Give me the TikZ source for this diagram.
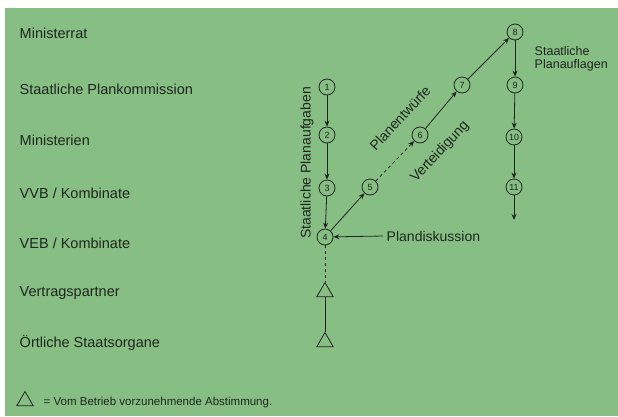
\documentclass[tikz,border=0pt]{standalone}
\usepackage{fontspec}
\setmainfont{Liberation Sans}
\usetikzlibrary{arrows.meta, positioning, shapes.geometric}
\definecolor{plangreen}{RGB}{134,190,132}
\definecolor{ink}{RGB}{30,38,30}

\begin{document}
\begin{tikzpicture}[x=1pt, y=-1pt, >={Stealth[length=6pt,width=5pt]}, thick, draw=ink, text=ink,
    stufe/.style={circle, draw=ink, inner sep=0pt, minimum size=16pt, font=\fontsize{9}{10}\selectfont},
    abst/.style={regular polygon, regular polygon sides=3, draw=ink, inner sep=0pt, minimum size=19pt},
    ebene/.style={anchor=west, font=\fontsize{14.5}{16}\selectfont},
    lbl/.style={font=\fontsize{14}{16}\selectfont}]
    \useasboundingbox (0,0) rectangle (618,416);
    \fill[white] (0,0) rectangle (618,416);
    \fill[plangreen] (5,8) rectangle (618,416);
    % Ebenen
    \foreach \n/\y/\t in {1/33/Ministerrat, 2/89/{Staatliche Plankommission}, 3/140/Ministerien,
        4/193/{VVB / Kombinate}, 5/243/{VEB / Kombinate}, 6/293/Vertragspartner, 7/343/{Örtliche Staatsorgane}}
      {\node[ebene] (e\n) at (16,\y) {\t};}
    % Stufen
    \foreach \n/\x/\y in {1/327/87, 2/327/135, 3/327/188, 4/325/237, 5/370/187, 6/420/135,
        7/462/85, 8/515/32, 9/515/85, 10/514/137, 11/514/187}
      {\node[stufe] (c\n) at (\x,\y) {\n};}
    \node[abst] (t1) at (325,292) {};
    \node[abst] (t2) at (325,342) {};
    \coordinate (ende) at (514,220);
    \draw[->] (c1) -- (c2);
    \draw[->] (c2) -- (c3);
    \draw[->] (c3) -- (c4);
    \draw[->] (c4) -- (c5);
    \draw[->, dashed] (c5) -- (c6);
    \draw[->] (c6) -- (c7);
    \draw[->] (c7) -- (c8);
    \draw[->] (c8) -- (c9);
    \draw[->] (c9) -- (c10);
    \draw[->] (c10) -- (c11);
    \draw[->] (c11) -- (ende);
    \draw[dashed] (c4) -- (t1);
    \draw (t1) -- (t2);
    % Beschriftungen
    \node[lbl, rotate=90] (aufg) at (307,163) {Staatliche Planaufgaben};
    \node[lbl, rotate=47] (entw) at (400,118) {Planentwürfe};
    \node[lbl, rotate=47] (vert) at (440,152) {Verteidigung};
    \node[lbl, anchor=west] (disk) at (383,236) {Plandiskussion};
    \draw[->] (disk.west) -- (c4);
    \node[anchor=west, align=left, font=\fontsize{12.5}{12.5}\selectfont] (aufl) at (531,59) {Staatliche\\Planauflagen};
    % Legende
    \node[abst] (leg) at (25,401) {};
    \node[anchor=west, font=\fontsize{11.5}{13}\selectfont] (legtxt) at (40,403) {= Vom Betrieb vorzunehmende Abstimmung.};
\end{tikzpicture}
\end{document}
